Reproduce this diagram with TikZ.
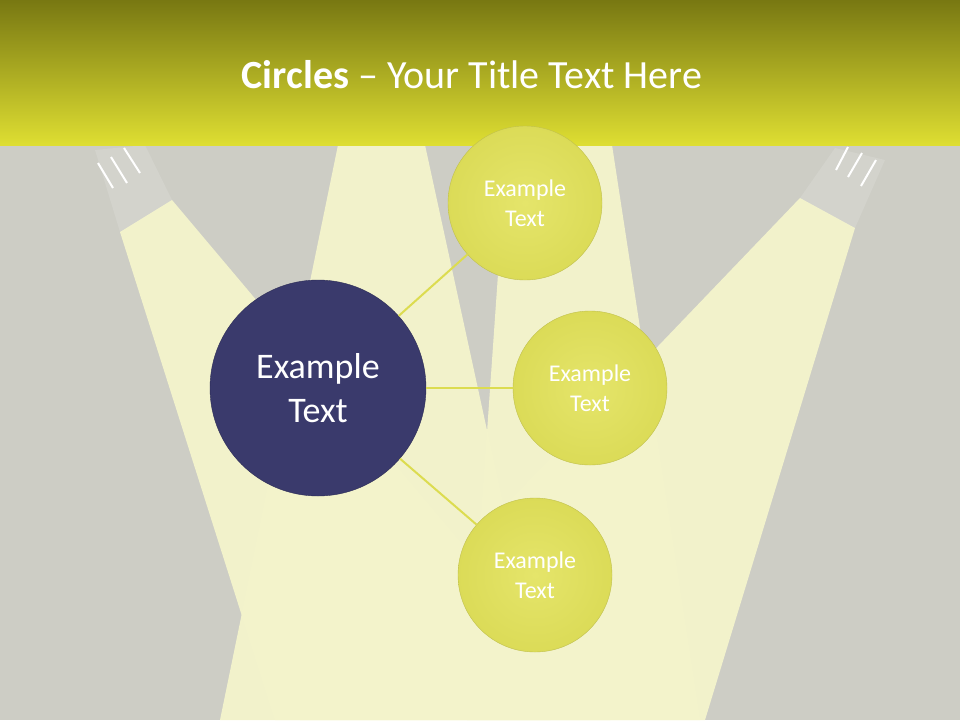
\documentclass[tikz,border=0pt]{standalone}
\usepackage{fontspec}
\setmainfont{Carlito}
\begin{document}
\begin{tikzpicture}[x=1pt,y=-1pt,
  beam/.style={fill=beamc,fill opacity=0.95},
  small/.style={circle,minimum size=154pt,inner sep=0pt,inner color=ylw!90!white,outer color=ylw!97!black,draw=ylw!85!black,text=white,font=\fontsize{24}{30}\selectfont,align=center},
  big/.style={circle,minimum size=216pt,inner sep=0pt,fill=navy,draw=navy!80!black,text=white,font=\fontsize{36}{44}\selectfont,align=center},
  link/.style={draw=lnk,line width=2pt},
  ray/.style={white,line width=2pt}]
\definecolor{bg}{HTML}{CDCDC5}
\definecolor{beamc}{HTML}{F4F4CC}
\definecolor{navy}{HTML}{3A3A6C}
\definecolor{ylw}{HTML}{E2E25A}
\definecolor{lnk}{HTML}{DCDC50}
\definecolor{hTop}{HTML}{787812}
\definecolor{hBot}{HTML}{DEDE32}
\fill[bg] (0,0) rectangle (960,720);
\useasboundingbox (0,0) rectangle (960,720);
% beams
\fill[beam] (120,232) -- (172,200) -- (610,720) -- (275,720) -- cycle;
\fill[beam] (338,145) -- (425,145) -- (550,720) -- (220,720) -- cycle;
\fill[beam] (507,145) -- (612,145) -- (700,720) -- (467,720) -- cycle;
\fill[beam] (800,198) -- (855,228) -- (705,720) -- (300,720) -- cycle;
% spotlight heads
\fill[white,opacity=0.12] (95,150) -- (145,145) -- (172,200) -- (120,232) -- cycle;
\fill[white,opacity=0.12] (835,148) -- (885,160) -- (855,228) -- (800,198) -- cycle;
\draw[ray] (98,163) -- (113,188); \draw[ray] (111,157) -- (127,183); \draw[ray] (124,148) -- (140,173);
\draw[ray] (848,147) -- (836,170); \draw[ray] (862,153) -- (848,177); \draw[ray] (876,160) -- (861,186);
% header
\shade[top color=hTop,bottom color=hBot] (0,0) rectangle (960,145);
\node[text=white,font=\fontsize{40}{46}\selectfont] (title) at (472,75) {\textbf{Circles} -- Your Title Text Here};
% circles
\node[big] (c) at (318,388) {Example\\Text};
\node[small] (a) at (525,203) {Example\\Text};
\node[small] (b) at (590,388) {Example\\Text};
\node[small] (d) at (535,575) {Example\\Text};
\draw[link] (c) -- (a);
\draw[link] (c) -- (b);
\draw[link] (c) -- (d);
\end{tikzpicture}
\end{document}
